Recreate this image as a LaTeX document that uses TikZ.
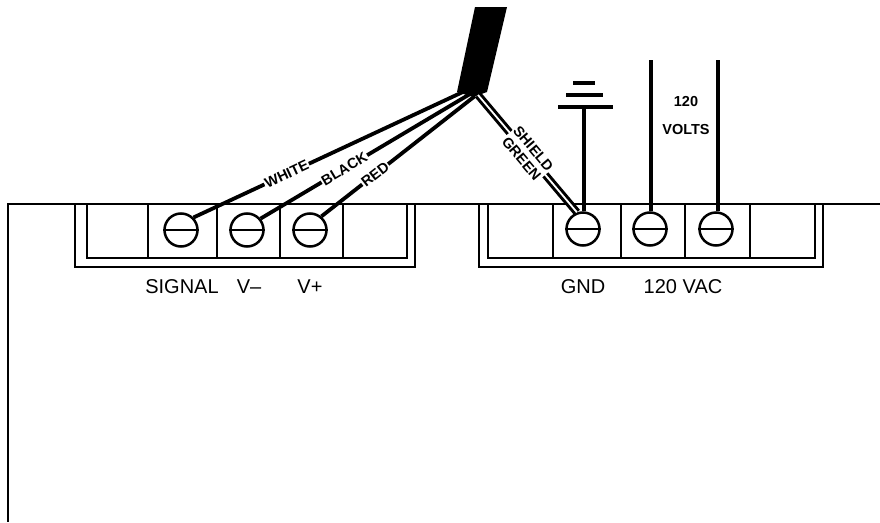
\documentclass[tikz,border=0pt]{standalone}
\usepackage{fontspec}
\setmainfont{Liberation Sans}
\usetikzlibrary{positioning}
\tikzset{
panel/.style={line width=2.2pt},
screw/.style={circle,draw,line width=2.5pt,minimum size=33pt,inner sep=0pt},
wire/.style={line width=3.8pt},
shieldwire/.style={line width=3pt,double=white,double distance=1.8pt},
smalltext/.style={font=\fontsize{14.5}{15.5}\selectfont\bfseries},
wirelabel/.style={smalltext,fill=white,sloped,inner sep=1pt},
termlabel/.style={font=\fontsize{20}{22}\selectfont},
}
\begin{document}
\begin{tikzpicture}[x=1pt,y=-1pt]
        \useasboundingbox (0,0) rectangle (880,522);

        \draw[panel] (880,204) -- (8,204) -- (8,522);

        % terminal strips
        \draw[panel] (75,204) -- (75,267) -- (415,267) -- (415,204);
        \draw[panel] (87,204) -- (87,258) -- (407,258) -- (407,204);
        \draw[panel] (479,204) -- (479,267) -- (823,267) -- (823,204);
        \draw[panel] (488,204) -- (488,258) -- (815,258) -- (815,204);
        \foreach \x in {148,217,280,343,553,621,685,750}
            \draw[panel] (\x,204) -- (\x,258);

        % screws
        \node[screw] (screwsignal) at (181,230) {};
        \node[screw] (screwminus) at (247,230) {};
        \node[screw] (screwplus) at (310,230) {};
        \node[screw] (screwgnd) at (583,229) {};
        \node[screw] (screwlinea) at (650,229) {};
        \node[screw] (screwlineb) at (716,229) {};
        \foreach \s in {screwsignal,screwminus,screwplus,screwgnd,screwlinea,screwlineb}
            \draw[panel] (\s.west) -- (\s.east);

        % cable
        \fill (475,7) -- (507,7) -- (487,92) -- (473,97) -- (457,92) -- cycle;
        \coordinate (forka) at (465,91);
        \coordinate (forkb) at (470,94);
        \coordinate (forkc) at (475,96);
        \coordinate (forkd) at (478,95);

        \draw[wire] (forka) -- node[wirelabel,pos=.657] (labelwhite) {WHITE} (screwsignal.45);
        \draw[wire] (forkb) -- node[wirelabel,pos=.6] (labelblack) {BLACK} (screwminus.40);
        \draw[wire] (forkc) -- node[wirelabel,pos=.65] (labelred) {RED} (screwplus.50);
        \draw[shieldwire] (forkd) -- node[wirelabel,pos=.5,align=center] (labelshield) {SHIELD\\GREEN} (screwgnd.110);

        % ground
        \coordinate (gndtop) at (584,107);
        \draw[line width=3.4pt] (gndtop) -- (screwgnd.north -| gndtop);
        \draw[line width=4pt] (558,107) -- (613,107);
        \draw[line width=4pt] (566,95) -- (603,95);
        \draw[line width=4pt] (573,83) -- (595,83);

        % line voltage
        \coordinate (linea) at (651,60);
        \coordinate (lineb) at (718,60);
        \draw[line width=3.6pt] (linea) -- (screwlinea.north -| linea);
        \draw[line width=3.6pt] (lineb) -- (screwlineb.north -| lineb);
        \node[smalltext] (volta) at (686,102) {120};
        \node[smalltext] (voltb) at (686,130) {VOLTS};

        \node[termlabel] (textsignal) at (182,287) {SIGNAL};
        \node[termlabel] (textminus) at (249,287) {V--};
        \node[termlabel] (textplus) at (310,287) {V+};
        \node[termlabel] (textgnd) at (583,287) {GND};
        \node[termlabel] (textvac) at (683,287) {120 VAC};
    \end{tikzpicture}
\end{document}
